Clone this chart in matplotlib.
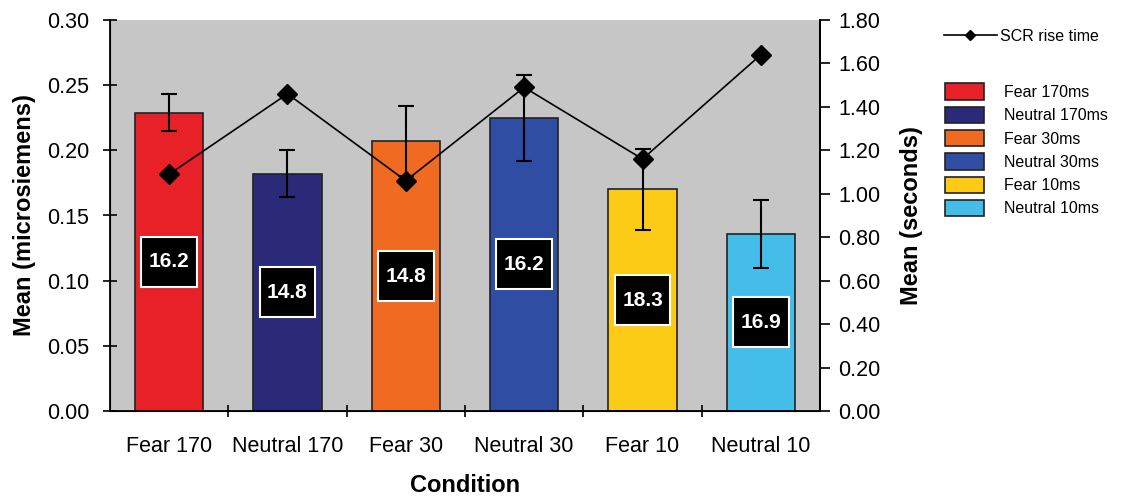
import matplotlib.pyplot as plt
from matplotlib.patches import Patch, Rectangle
from matplotlib.lines import Line2D
import numpy as np

plt.rcParams['font.family'] = ['Liberation Sans', 'DejaVu Sans']

conditions = ['Fear 170', 'Neutral 170', 'Fear 30', 'Neutral 30', 'Fear 10', 'Neutral 10']
legend_names = ['Fear 170ms', 'Neutral 170ms', 'Fear 30ms', 'Neutral 30ms', 'Fear 10ms', 'Neutral 10ms']
scr_amp = [0.229, 0.182, 0.207, 0.225, 0.170, 0.136]
scr_amp_err = [0.014, 0.018, 0.027, 0.033, 0.031, 0.026]
rise_time = [1.09, 1.46, 1.06, 1.49, 1.16, 1.64]
box_values = ['16.2', '14.8', '14.8', '16.2', '18.3', '16.9']
colors = ['#e82128', '#2b2a78', '#f06a22', '#2f4ea3', '#fccb16', '#45bde9']

fig = plt.figure(figsize=(11.27, 5), dpi=100)
ax = fig.add_axes([0.0976, 0.178, 0.63, 0.782])
ax.set_facecolor('#c6c6c6')

x = np.arange(len(conditions))
ax.bar(x, scr_amp, width=0.58, color=colors, edgecolor='#222222', linewidth=1.2, zorder=2)
ax.errorbar(x, scr_amp, yerr=scr_amp_err, fmt='none', ecolor='black',
            elinewidth=1.5, capsize=6, capthick=1.5, zorder=3)

# black value boxes with a white border, centred half way up each bar
box_w, box_h = 0.47, 0.0385
for xi, h, txt in zip(x, scr_amp, box_values):
    ax.add_patch(Rectangle((xi - box_w / 2, h / 2 - box_h / 2), box_w, box_h,
                           facecolor='black', edgecolor='white', linewidth=1.5, zorder=4))
    ax.text(xi, h / 2, txt, ha='center', va='center', color='white',
            fontsize=15, fontweight='bold', zorder=5)

ax.set_xlim(-0.5, 5.5)
ax.set_ylim(0, 0.30)
ax.set_yticks(np.arange(0, 0.301, 0.05))
ax.set_yticklabels([f'{v:.2f}' for v in np.arange(0, 0.301, 0.05)])
ax.set_xticks(x)
ax.set_xticklabels(conditions)
ax.set_xticks(np.arange(0.5, 5.5, 1.0), minor=True)
ax.tick_params(axis='x', which='major', length=0, labelsize=15.5, pad=18)
ax.tick_params(axis='x', which='minor', length=8, direction='inout', width=1.2)
ax.tick_params(axis='y', which='major', length=10, direction='inout', width=1.2,
               labelsize=15.5, pad=10)
ax.set_ylabel('Mean (microsiemens)', fontsize=17, fontweight='bold', labelpad=8)
ax.set_xlabel('Condition', fontsize=17, fontweight='bold', labelpad=12)
ax.spines['top'].set_visible(False)
for s in ['left', 'bottom', 'right']:
    ax.spines[s].set_linewidth(1.3)

ax2 = ax.twinx()
ax2.plot(x, rise_time, color='black', linewidth=1.2, marker='D', markersize=10, zorder=5)
ax2.set_ylim(0, 1.80)
ax2.set_yticks(np.arange(0, 1.801, 0.2))
ax2.set_yticklabels([f'{v:.2f}' for v in np.arange(0, 1.801, 0.2)])
ax2.tick_params(axis='y', length=7, direction='out', width=1.2, labelsize=15.5, pad=6)
ax2.set_ylabel('Mean (seconds)', fontsize=17, fontweight='bold', labelpad=14)
ax2.spines['top'].set_visible(False)
ax2.spines['right'].set_linewidth(1.3)

line_handle = Line2D([0], [0], color='black', linewidth=1.2, marker='D', markersize=5)
fig.legend([line_handle], ['SCR rise time'], loc='upper left',
           bbox_to_anchor=(0.832, 0.955), frameon=False, fontsize=11.5,
           handlelength=3.3, handletextpad=0.2, borderaxespad=0)

patches = [Patch(facecolor=c, edgecolor='#222222', linewidth=1.2) for c in colors]
fig.legend(patches, legend_names, loc='upper left', bbox_to_anchor=(0.833, 0.846),
           frameon=False, fontsize=11.5, handlelength=2.4, handleheight=1.2,
           handletextpad=1.3, labelspacing=0.42, borderaxespad=0)

fig.savefig('out.png', dpi=100)
